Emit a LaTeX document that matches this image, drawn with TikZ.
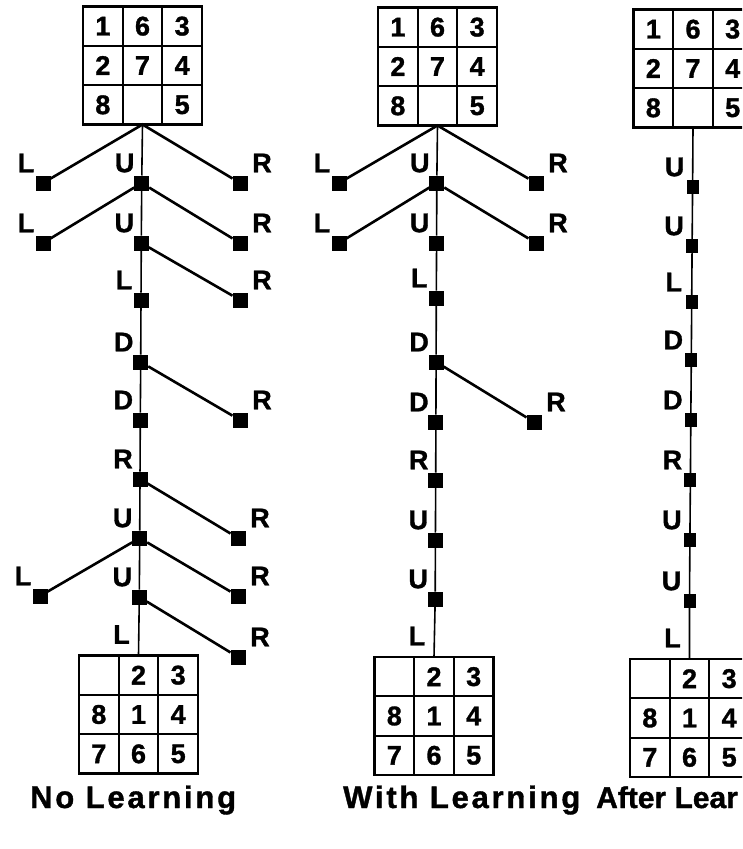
\documentclass[tikz,border=0pt]{standalone}
\usepackage{fontspec}
\setmainfont{Liberation Sans}
\newcommand\boardcw{39.67}
\newcommand\boardch{39.33}
% #1 name, #2 centre x, #3 centre y, #4 nine entries row by row
\newcommand\puzzle[4]{%
  \node[board] (#1) at (#2,#3) {};
  \draw[cell] ([xshift=-\boardcw/2*1pt]#1.north) -- ([xshift=-\boardcw/2*1pt]#1.south);
  \draw[cell] ([xshift=\boardcw/2*1pt]#1.north) -- ([xshift=\boardcw/2*1pt]#1.south);
  \draw[cell] ([yshift=\boardch/2*1pt]#1.west) -- ([yshift=\boardch/2*1pt]#1.east);
  \draw[cell] ([yshift=-\boardch/2*1pt]#1.west) -- ([yshift=-\boardch/2*1pt]#1.east);
  \foreach \d [count=\i from 0] in {#4} {
    \pgfmathtruncatemacro\cc{mod(\i,3)}
    \pgfmathtruncatemacro\rr{int(\i/3)}
    \node[digit] (#1-\i) at ({#2+(\cc-1)*\boardcw},{#3+(\rr-1)*\boardch}) {\d};
  }
}
% move node with its letter to the upper left
\newcommand\mvl[4]{%
  \node[sq] (#1) at (#2,#3) {};
  \node[lab] (#1-t) at ([shift={(-17,-20)}]#1.center) {#4};
}
% move node with its letter to the upper right
\newcommand\mvr[4]{%
  \node[sq] (#1) at (#2,#3) {};
  \node[lab] (#1-t) at ([shift={(22,-20)}]#1.center) {#4};
}
% narrow move node for the third column
\newcommand\mvs[4]{%
  \node[sqs] (#1) at (#2,#3) {};
  \node[lab] (#1-t) at ([shift={(-18,-20)}]#1.center) {#4};
}
\begin{document}
\begin{tikzpicture}[x=1pt,y=-1pt,
  sq/.style={fill=black,draw=none,minimum width=15pt,minimum height=15pt,inner sep=0pt,outer sep=0pt},
  sqs/.style={sq,minimum width=12pt,minimum height=14pt},
  lab/.style={font=\bfseries\fontsize{27}{27}\selectfont\addfontfeature{FakeBold=1.2},inner sep=0pt},
  digit/.style={font=\bfseries\fontsize{27}{27}\selectfont\addfontfeature{FakeBold=1.2},inner sep=0pt},
  board/.style={draw,line width=2.2pt,minimum width=119pt,minimum height=118pt,inner sep=0pt,outer sep=0pt},
  cell/.style={line width=1.7pt},
  branch/.style={line width=2.6pt},
  trunk/.style={line width=1.6pt},
  caption/.style={font=\bfseries\fontsize{31}{31}\selectfont\addfontfeature{LetterSpace=9,FakeBold=1.2},inner sep=0pt,anchor=base west}
]
\useasboundingbox (0,0) rectangle (742,849);
\clip (0,0) rectangle (742,849);

% ---------------- No Learning ----------------
\puzzle{A0}{142.5}{65.5}{1,6,3,2,7,4,8,{},5}
\mvl{a1}{141.7}{183}{U}
\mvl{a2}{141.3}{243}{U}
\mvl{a3}{141.0}{300}{L}
\mvl{a4}{140.7}{362}{D}
\mvl{a5}{140.3}{420}{D}
\mvl{a6}{140.0}{479}{R}
\mvl{a7}{139.7}{538}{U}
\mvl{a8}{139.3}{597}{U}
\puzzle{A9}{138.5}{714.5}{{},2,3,8,1,4,7,6,5}
\node[lab] (A9-t) at ([shift={(-17,-21)}]A9.north) {L};

\mvl{a1l}{43}{183}{L}
\mvr{a1r}{240}{183}{R}
\mvl{a2l}{43}{243}{L}
\mvr{a2r}{240}{243}{R}
\mvr{a3r}{240}{300}{R}
\mvr{a5r}{240}{420}{R}
\mvr{a7r}{238}{538}{R}
\mvl{a8l}{40}{596}{L}
\mvr{a8r}{238}{596}{R}
\mvr{a9r}{238}{657}{R}

\draw[trunk] (A0.south) -- (a1) -- (a2) -- (a3) -- (a4) -- (a5) -- (a6) -- (a7) -- (a8) -- (A9.north);
\draw[branch] (a1l) -- (A0.south) -- (a1r);
\draw[branch] (a2l) -- (a1) -- (a2r);
\draw[branch] (a2) -- (a3r);
\draw[branch] (a4) -- (a5r);
\draw[branch] (a6) -- (a7r);
\draw[branch] (a8l) -- (a7) -- (a8r);
\draw[branch] (a8) -- (a9r);

% ---------------- With Learning ----------------
\puzzle{B0}{437.5}{66.5}{1,6,3,2,7,4,8,{},5}
\mvl{b1}{436.8}{183}{U}
\mvl{b2}{436.6}{243}{U}
\mvl{b3}{436.3}{298}{L}
\mvl{b4}{436.1}{362}{D}
\mvl{b5}{435.9}{422}{D}
\mvl{b6}{435.7}{480}{R}
\mvl{b7}{435.4}{540}{U}
\mvl{b8}{435.2}{599}{U}
\puzzle{B9}{434}{716}{{},2,3,8,1,4,7,6,5}
\node[lab] (B9-t) at ([shift={(-17,-21)}]B9.north) {L};

\mvl{b1l}{339}{183}{L}
\mvr{b1r}{536}{183}{R}
\mvl{b2l}{339}{243}{L}
\mvr{b2r}{536}{243}{R}
\mvr{b5r}{534}{422}{R}

\draw[trunk] (B0.south) -- (b1) -- (b2) -- (b3) -- (b4) -- (b5) -- (b6) -- (b7) -- (b8) -- (B9.north);
\draw[branch] (b1l) -- (B0.south) -- (b1r);
\draw[branch] (b2l) -- (b1) -- (b2r);
\draw[branch] (b4) -- (b5r);

% ---------------- After Learning ----------------
\puzzle{C0}{693}{68.5}{1,6,3,2,7,4,8,{},5}
\mvs{c1}{692.6}{187}{U}
\mvs{c2}{692.1}{246}{U}
\mvs{c3}{691.7}{302}{L}
\mvs{c4}{691.3}{360}{D}
\mvs{c5}{690.8}{420}{D}
\mvs{c6}{690.4}{480}{R}
\mvs{c7}{689.9}{540}{U}
\mvs{c8}{689.5}{601}{U}
\puzzle{C9}{689.5}{718}{{},2,3,8,1,4,7,6,5}
\node[lab] (C9-t) at ([shift={(-17,-21)}]C9.north) {L};

\draw[trunk] (C0.south) -- (c1) -- (c2) -- (c3) -- (c4) -- (c5) -- (c6) -- (c7) -- (c8) -- (C9.north);

% ---------------- captions ----------------
\node[caption] (capA) at (30,808) {No Learning};
\node[caption] (capB) at (343,808) {With Learning};
\node[caption,font=\bfseries\fontsize{30}{30}\selectfont\addfontfeature{FakeBold=1.2}] (capC) at (596,808) {After Lear};
\end{tikzpicture}
\end{document}
